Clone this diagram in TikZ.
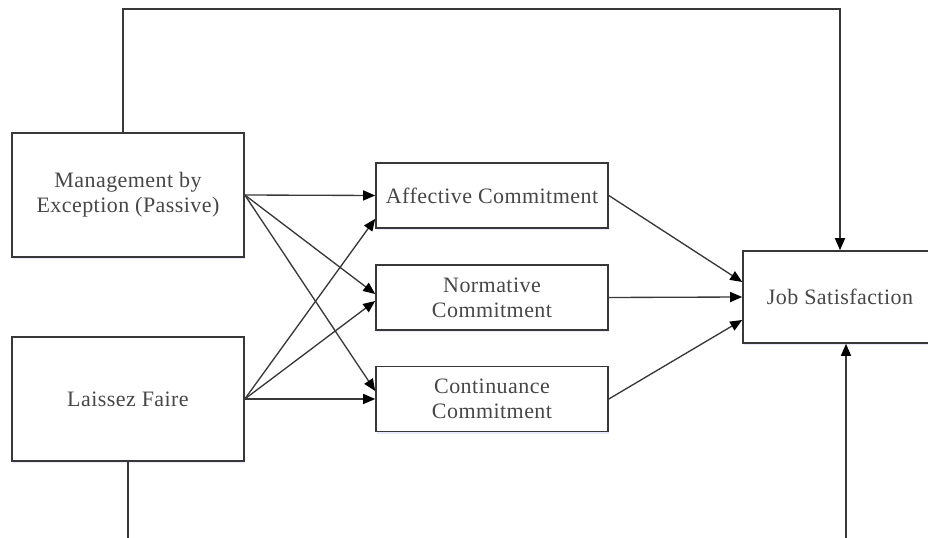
\documentclass[tikz,border=0pt]{standalone}
\usepackage{fontspec}
\setmainfont{Liberation Serif}[LetterSpace=2]
\usetikzlibrary{arrows.meta,calc,shadows}
\begin{document}
\begin{tikzpicture}[x=0.75pt,y=-0.75pt,
  box/.style={draw=black!78, line width=1.2pt, fill=white, align=center,
    text=black!72, font=\fontsize{16.5pt}{18.75pt}\selectfont, inner sep=0pt,
    drop shadow={shadow xshift=0.8pt, shadow yshift=-1.6pt, fill=blue!25!white, opacity=0.35}},
  bigbox/.style={box, minimum width=174pt, minimum height=93pt},
  midbox/.style={box, minimum width=174pt, minimum height=48.75pt},
  link/.style={draw=black!78, line width=1pt,
    -{Triangle[length=9pt,width=7.5pt,color=black,fill=black]}}]
\useasboundingbox (0,0) rectangle (928,538);
\begin{scope}
\clip (0,0) rectangle (928,538);

% independent variables
\node[bigbox] (mbe) at (128,195) {Management by\\Exception (Passive)};
\node[bigbox] (lf)  at (128,399) {Laissez Faire};

% commitment dimensions
\node[midbox] (aff)  at (492,195.5) {Affective Commitment};
\node[midbox] (norm) at (492,297.5) {Normative\\Commitment};
\node[midbox] (cont) at (492,399)   {Continuance\\Commitment};

% outcome
\node[box, minimum width=145.5pt, minimum height=69pt] (js) at (840,297) {Job Satisfaction};

% direct paths to job satisfaction
\coordinate (top) at (840,9);
\coordinate (bot) at (846,560);
\draw[link] ([xshift=-3.75pt]mbe.north) |- (top) -- (top |- js.north);
\draw[link] (lf.south) |- (bot) -- (bot |- js.south);

% leadership to commitment
\draw[link] (mbe.east) -- (aff.west);
\draw[link] (mbe.east) -- ([yshift=2.6pt]norm.west);
\draw[link] (mbe.east) -- ([yshift=6pt]cont.west);
\draw[link] (lf.east) -- ($(aff.west)!0.7!(aff.south west)$);
\draw[link] (lf.east) -- ([yshift=-2.6pt]norm.west);
\draw[link] (lf.east) -- (cont.west);

% commitment to job satisfaction
\draw[link] (aff.east) -- ([yshift=11.25pt]js.west);
\draw[link] (norm.east) -- (js.west);
\draw[link] (cont.east) -- ([yshift=-17.25pt]js.west);
\end{scope}
\end{tikzpicture}
\end{document}
